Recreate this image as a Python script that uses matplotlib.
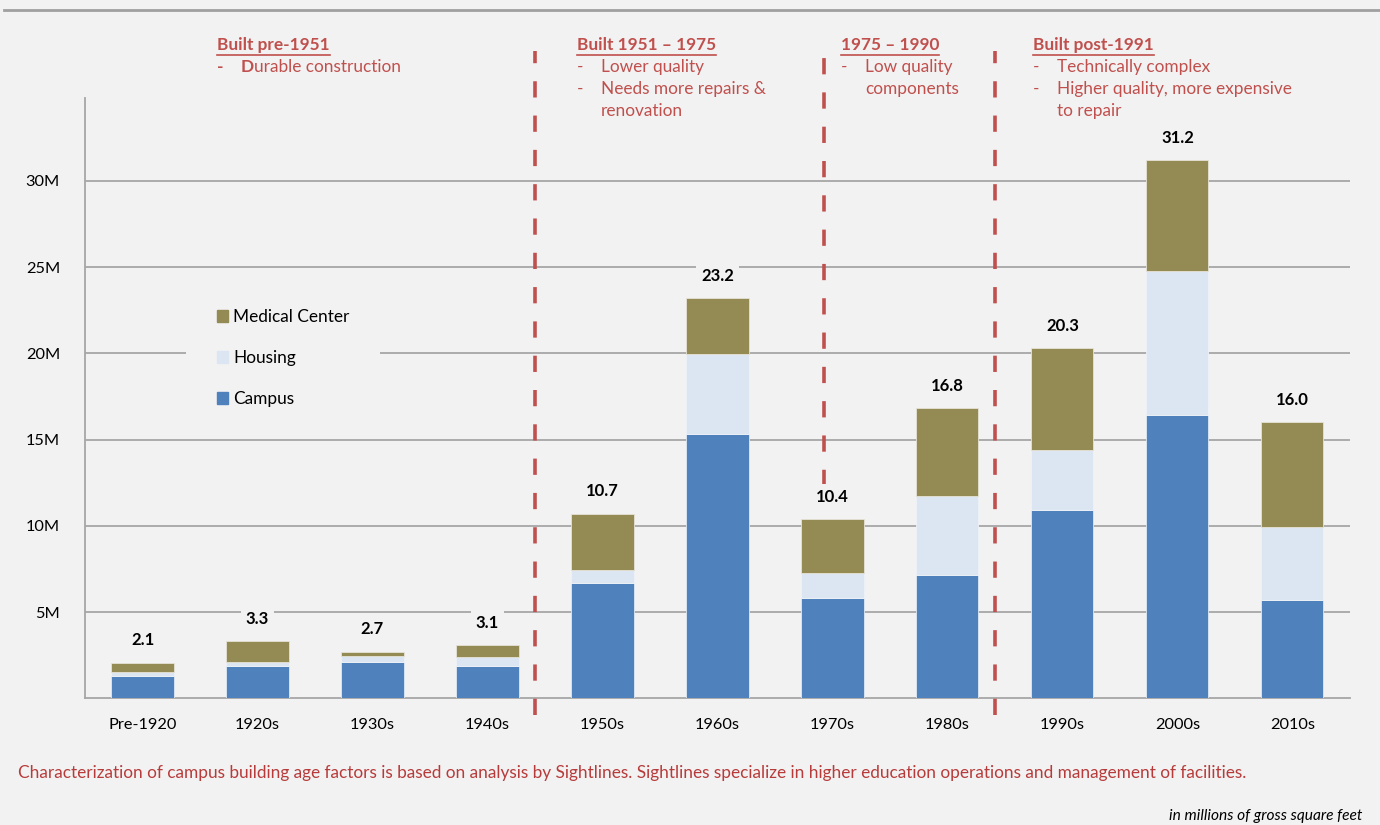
import matplotlib.pyplot as plt
import numpy as np
from matplotlib.lines import Line2D
from matplotlib.patches import Patch

plt.rcParams['font.family'] = ['Lato', 'DejaVu Sans']

decades = ["Pre-1920", "1920s", "1930s", "1940s", "1950s", "1960s",
           "1970s", "1980s", "1990s", "2000s", "2010s"]
campus = [1.31, 1.89, 2.1, 1.89, 6.7, 15.35, 5.8, 7.15, 10.9, 16.4, 5.7]
housing = [0.2, 0.21, 0.35, 0.49, 0.75, 4.6, 1.45, 4.55, 3.5, 8.4, 4.25]
medical = [0.56, 1.22, 0.25, 0.71, 3.25, 3.25, 3.15, 5.1, 5.9, 6.4, 6.05]
totals = ["2.1", "3.3", "2.7", "3.1", "10.7", "23.2", "10.4", "16.8", "20.3", "31.2", "16.0"]
yticks = [5, 10, 15, 20, 25, 30]
ytick_labels = ["5M", "10M", "15M", "20M", "25M", "30M"]

bg = "#f2f2f2"
red = "#c0504d"
c_campus = "#4f81bd"
c_housing = "#dce6f2"
c_medical = "#948a54"

fig = plt.figure(figsize=(13.8, 8.25), dpi=100, facecolor=bg)
ax = fig.add_axes([0.0616, 0.1536, 0.9166, 0.7276])
ax.set_facecolor(bg)

x = np.arange(len(decades))
campus = np.array(campus)
housing = np.array(housing)
medical = np.array(medical)
w = 0.54
ax.bar(x, campus, w, color=c_campus, edgecolor="#dfe8f3", linewidth=0.6, zorder=3)
ax.bar(x, housing, w, bottom=campus, color=c_housing, edgecolor="#eef2f8", linewidth=0.6, zorder=3)
ax.bar(x, medical, w, bottom=campus + housing, color=c_medical, edgecolor="#e6e3d6", linewidth=0.6, zorder=3)

top = campus + housing + medical
for xi, t, lab in zip(x, top, totals):
    ax.annotate(lab, (xi, t), xytext=(0, 16), textcoords="offset points",
                ha="center", va="center", fontsize=12, fontweight="bold",
                color="black", zorder=5,
                bbox=dict(boxstyle="square,pad=0.3", fc=bg, ec="none"))

ax.set_xlim(-0.5, 10.5)
ax.set_ylim(0, 34.8)
ax.set_yticks(yticks)
ax.set_yticklabels(ytick_labels)
ax.set_xticks(x)
ax.set_xticklabels(decades)
ax.tick_params(axis="both", length=0, labelsize=11.8, colors="black")
ax.tick_params(axis="y", pad=18)
ax.tick_params(axis="x", pad=14)
ax.grid(axis="y", color="#a6a6a6", linewidth=1.3, zorder=0)
for s in ["top", "right"]:
    ax.spines[s].set_visible(False)
ax.spines["left"].set_color("#a6a6a6")
ax.spines["bottom"].set_color("#a6a6a6")
ax.spines["left"].set_linewidth(1.3)
ax.spines["bottom"].set_linewidth(1.3)

# legend
handles = [Patch(color=c_medical, label="Medical Center"),
           Patch(color=c_housing, label="Housing"),
           Patch(color=c_campus, label="Campus")]
leg = ax.legend(handles=handles, loc="center left", bbox_to_anchor=(0.0795, 0.567),
                frameon=True, facecolor=bg, edgecolor="none", framealpha=1,
                fontsize=12.4, handlelength=0.65, handleheight=0.65,
                handletextpad=0.3, labelspacing=1.45, borderpad=1.8,
                borderaxespad=0, fancybox=False)
leg.set_zorder(4)

# dashed separators
for xs, ybot in [(3.41, -0.95), (5.93, 12.3), (7.41, -0.95)]:
    ax.plot([xs, xs], [ybot, 37.5], color=red, linewidth=2.6,
            dashes=(4.5, 5), clip_on=False, zorder=4)

# top border line
fig.add_artist(Line2D([0.003, 1.0], [0.988, 0.988], color="#a0a0a0", linewidth=2))

# period annotations
notes = [
    (217, "Built pre-1951", None),
    (577, "Built 1951 \u2013 1975", ["Lower quality", "Needs more repairs &", "renovation"]),
    (841, "1975 \u2013 1990", ["Low quality", "components"]),
    (1033, "Built post-1991", ["Technically complex", "Higher quality, more expensive", "to repair"]),
]
W, H = 1380, 825
fs = 12.4
fig.canvas.draw()
renderer = fig.canvas.get_renderer()


def fx(px):
    return px / W


def fy(py):
    return 1 - py / H


for px, head, items in notes:
    t = fig.text(fx(px), fy(45), head, color=red, fontsize=fs, fontweight="bold",
                 ha="left", va="center")
    bb = t.get_window_extent(renderer)
    fig.add_artist(Line2D([bb.x0 / W, bb.x1 / W], [fy(54.5), fy(54.5)], color=red, linewidth=1.2))
    if items is None:
        fig.text(fx(px), fy(67), "-", color=red, fontsize=fs, fontweight="bold",
                 ha="left", va="center")
        d = fig.text(fx(px + 24), fy(67), "D", color=red, fontsize=fs,
                     fontweight="bold", ha="left", va="center")
        db = d.get_window_extent(renderer)
        fig.text(db.x1 / W, fy(67), "urable construction", color=red, fontsize=fs,
                 ha="left", va="center")
        continue
    for i, item in enumerate(items):
        yy = fy(67 + 22 * i)
        if i == 0 or item[0].isupper():
            fig.text(fx(px), yy, "-", color=red, fontsize=fs, ha="left", va="center")
        fig.text(fx(px + 24), yy, item, color=red, fontsize=fs, ha="left", va="center")

fig.text(fx(18), fy(773), "Characterization of campus building age factors is based on analysis by "
         "Sightlines. Sightlines specialize in higher education operations and management of facilities.",
         color="#b83b3b", fontsize=12.4, ha="left", va="center")
fig.text(fx(1362), fy(816), "in millions of gross square feet", color="black",
         fontsize=11.2, style="italic", ha="right", va="center")

fig.savefig("out.png", dpi=100, facecolor=bg)
